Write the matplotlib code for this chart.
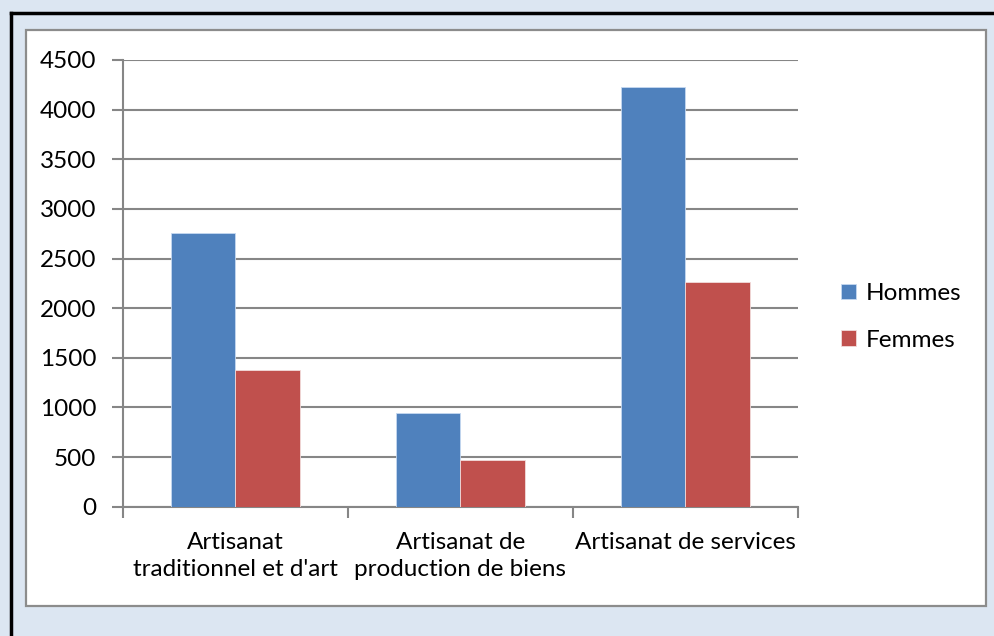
import numpy as np
import matplotlib
matplotlib.use('Agg')
import matplotlib.pyplot as plt
from matplotlib.patches import Rectangle
from matplotlib.lines import Line2D

# data
categories=["Artisanat\ntraditionnel et d'art","Artisanat de\nproduction de biens","Artisanat de services"]
series=['Hommes','Femmes']
hommes=[2760,940,4230]
femmes=[1380,470,2260]
yticks=[0,500,1000,1500,2000,2500,3000,3500,4000,4500]

colors=['#4f81bd','#c0504d']
W,H=994,636
fs=17.5
plt.rcParams['font.family']=['Lato','DejaVu Sans']
plt.rcParams['font.size']=fs

fig=plt.figure(figsize=(W/100,H/100),dpi=100)
fig.patch.set_facecolor('#dce6f2')

# outer black frame (only top/left visible) and white chart panel
fig.add_artist(Line2D([11/W,11/W],[0,1-13/H],color='black',lw=2.5,transform=fig.transFigure))
fig.add_artist(Line2D([11/W,1],[1-13/H,1-13/H],color='black',lw=2.5,transform=fig.transFigure))
fig.add_artist(Rectangle((26/W,1-606/H),(986-26)/W,(606-30)/H,facecolor='white',
                         edgecolor='#8c8c8c',lw=1.6,transform=fig.transFigure,zorder=0))

x0,x1,ytop,ybot=122.7,798,60,506.7
ax=fig.add_axes([x0/W,1-ybot/H,(x1-x0)/W,(ybot-ytop)/H])
ax.set_facecolor('none')
x=np.arange(len(categories))
bw=1/3.5
ax.bar(x-bw/2,hommes,bw,color=colors[0],edgecolor='#c6d9f1',lw=0.6,label=series[0],zorder=3)
ax.bar(x+bw/2,femmes,bw,color=colors[1],edgecolor='#f2dcdb',lw=0.6,label=series[1],zorder=3)

ax.set_xlim(-0.5,len(categories)-0.5)
ax.set_ylim(0,4500)
ax.set_yticks(yticks)
ax.yaxis.grid(True,color='#868686',lw=1.5)
ax.set_axisbelow(True)
for s in ['top','right']:
  ax.spines[s].set_visible(False)
for s in ['left','bottom']:
  ax.spines[s].set_color('#868686')
  ax.spines[s].set_linewidth(1.5)
ax.tick_params(axis='y',length=8,width=1.5,color='#868686',pad=11,labelsize=fs)
ax.set_xticks(np.arange(len(categories)+1)-0.5)
ax.set_xticklabels([])
ax.tick_params(axis='x',which='major',length=8,width=1.5,color='#868686')
ax.set_xticks(x,minor=True)
ax.set_xticklabels(categories,minor=True,linespacing=1.35)
ax.tick_params(axis='x',which='minor',length=0,pad=18,labelsize=fs)

fig.legend(loc='center left',bbox_to_anchor=(829/W,1-317/H),frameon=False,
           handlelength=0.6,handleheight=0.6,handletextpad=0.4,labelspacing=1.05,
           borderpad=0,fontsize=fs)

fig.savefig('out.png',dpi=100,facecolor=fig.get_facecolor())
